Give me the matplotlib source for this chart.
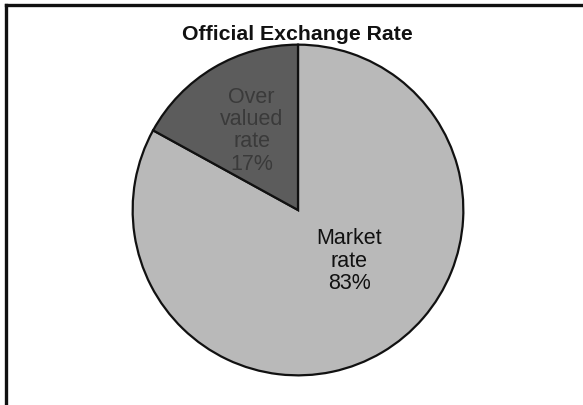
import matplotlib
matplotlib.use("Agg")
import matplotlib.pyplot as plt
from matplotlib.lines import Line2D

categories = ["Market\nrate", "Over\nvalued\nrate"]
values = [83, 17]
colors = ["#b9b9b9", "#5c5c5c"]
label_colors = ["#111111", "#3a3a3a"]
label_pos = [(0.31, -0.31), (-0.28, 0.48)]
title = "Official Exchange Rate"

plt.rcParams['font.family'] = ['Liberation Sans', 'DejaVu Sans']

fig = plt.figure(figsize=(5.83, 4.05), dpi=100)
fig.patch.set_facecolor("white")

W, H = 583, 405
cx, cy, r = 298, 210, 167
ax = fig.add_axes([(cx - r) / W, (H - cy - r) / H, 2 * r / W, 2 * r / H])
wedges, _ = ax.pie(values, colors=colors, startangle=90, counterclock=False,
                   radius=1.0,
                   wedgeprops=dict(edgecolor="#111111", linewidth=1.6))
ax.set_xlim(-1.01, 1.01)
ax.set_ylim(-1.01, 1.01)
ax.set_aspect("auto")
ax.axis("off")

total = sum(values)
for cat, v, (x, y), c in zip(categories, values, label_pos, label_colors):
    ax.text(x, y, f"{cat}\n{round(100 * v / total)}%", ha="center", va="center",
            fontsize=15.5, color=c, linespacing=1.08)

fig.text(297 / W, 1 - 35 / H, title, ha="center", va="center",
         fontsize=15.3, fontweight="bold", color="#111111")

# frame lines (top and left)
fig.add_artist(Line2D([6 / W, 1], [1 - 5 / H, 1 - 5 / H], transform=fig.transFigure,
                      color="#111111", linewidth=2.4))
fig.add_artist(Line2D([6 / W, 6 / W], [0, 1 - 5 / H], transform=fig.transFigure,
                      color="#111111", linewidth=2.4))

fig.savefig("out.png", dpi=100)
